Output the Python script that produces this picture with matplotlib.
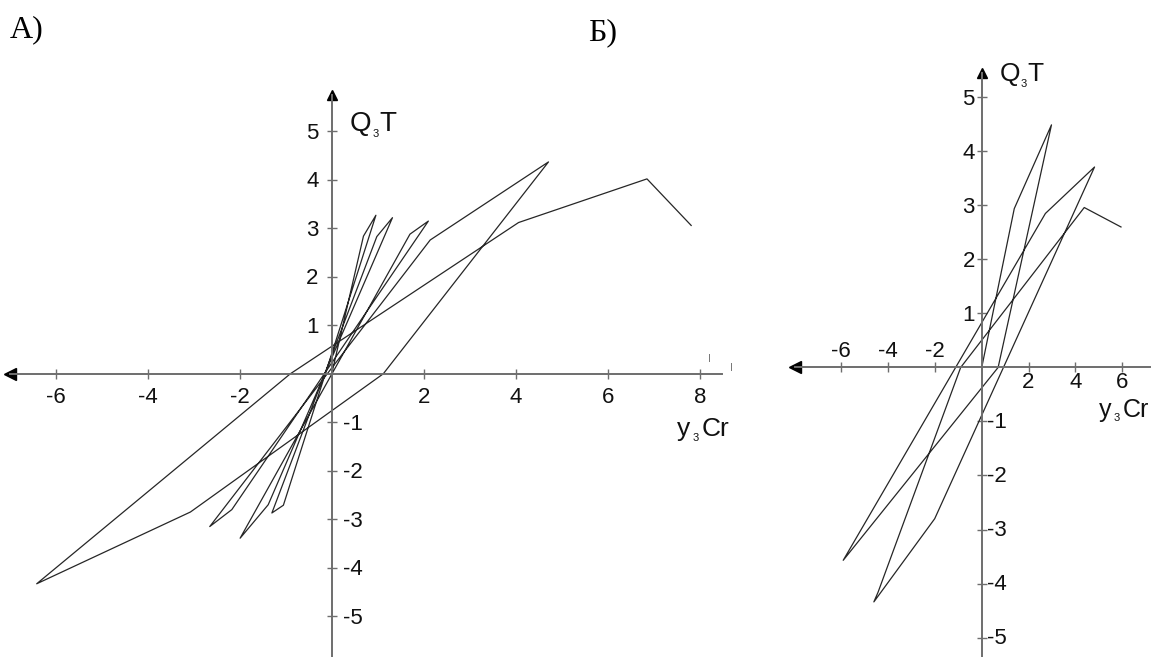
"""Петли гистерезиса Q3T(y3Cr) - две панели"""
import matplotlib.pyplot as plt

# панель А: вершины ломаной
a_x = [0.0, 0.69, 0.96, -1.05, -1.30, 0.98, 1.32, -1.38, -1.99, 1.70, 2.10,
       -2.17, -2.65, 2.14, 4.71, 1.12, -3.07, -6.41, -0.90, 4.06, 6.85, 7.81]
a_y = [0.0, 2.84, 3.27, -2.71, -2.87, 2.83, 3.22, -2.70, -3.39, 2.88, 3.15,
       -2.80, -3.15, 2.76, 4.37, 0.0, -2.85, -4.33, 0.0, 3.12, 4.02, 3.06]
a_xticks = [-6, -4, -2, 2, 4, 6, 8]
a_yticks = [-5, -4, -3, -2, -1, 1, 2, 3, 4, 5]

# панель Б
b_x = [0.0, 1.39, 2.98, 0.70, -5.92, 2.72, 4.82, -2.01, -4.61, -4.43, -0.90,
       4.38, 5.95]
b_y = [0.0, 2.94, 4.49, 0.0, -3.57, 2.85, 3.71, -2.80, -4.34, -4.16, 0.0,
       2.96, 2.60]
b_xticks = [-6, -4, -2, 2, 4, 6]
b_yticks = [-5, -4, -3, -2, -1, 1, 2, 3, 4, 5]

AXIS_COLOR = '#6e6e6e'
LINE_COLOR = '#262626'
TEXT_COLOR = '#111111'
SANS = 'Liberation Sans'
SERIF = 'Liberation Serif'


def make_cross_axes(ax, xlim, ylim):
    """Оси, пересекающиеся в нуле, со стрелками влево и вверх."""
    ax.set_xlim(xlim)
    ax.set_ylim(ylim)
    for side in ('top', 'right'):
        ax.spines[side].set_visible(False)
    for side in ('left', 'bottom'):
        ax.spines[side].set_position('zero')
        ax.spines[side].set_color(AXIS_COLOR)
        ax.spines[side].set_linewidth(1.4)
    ax.tick_params(direction='inout', length=7, width=1, color=AXIS_COLOR,
                   labelbottom=False, labelleft=False)
    ax.plot(0, 0, '<', color='black', ms=9, transform=ax.get_yaxis_transform(),
            clip_on=False)
    ax.plot(0, 1, '^', color='black', ms=7, transform=ax.get_xaxis_transform(),
            clip_on=False)
    ax.patch.set_alpha(0)


def tick_label(ax, x, y, text, dx, dy, ha):
    ax.annotate(text, xy=(x, y), xytext=(dx, dy), textcoords='offset points',
                ha=ha, va='baseline', fontsize=16, family=SANS, color=TEXT_COLOR)


def axis_name(ax, x, y, parts):
    # parts: (текст, сдвиг по x в пунктах, сдвиг по y, размер)
    for text, dx, dy, size in parts:
        ax.annotate(text, xy=(x, y), xytext=(dx, dy), textcoords='offset points',
                    ha='left', va='baseline', fontsize=size, family=SANS,
                    color=TEXT_COLOR)


fig = plt.figure(figsize=(11.51, 6.57), dpi=100)

# ---- А ----
ax = fig.add_axes([10 / 1151, 0, 712 / 1151, 562 / 657])
make_cross_axes(ax, (-6.99, 8.48), (-5.84, 5.75))
ax.set_xticks(a_xticks)
ax.set_yticks(a_yticks)
ax.plot(a_x, a_y, color=LINE_COLOR, lw=0.9)
for v in a_xticks:
    tick_label(ax, v, 0, str(v), 0, -21, 'center')
for v in a_yticks:
    if v > 0:
        tick_label(ax, 0, v, str(v), -9.5, -5.5, 'right')
    else:
        tick_label(ax, 0, v, str(v), 8, -5.5, 'left')
axis_name(ax, 0.4, 5.0, [('Q', 0, 0, 20), ('3', 16, -4, 8), ('T', 21, 0, 20)])
axis_name(ax, 7.5, -1.29, [('y', 0, 0, 19), ('3', 11.5, -3, 8), ('Cr', 18, 0, 19)])
ax.text(8.2, 0.3, 'I', fontsize=7, color=AXIS_COLOR, ha='center', va='center')
ax.text(8.68, 0.12, 'I', fontsize=7, color=AXIS_COLOR, ha='center', va='center')

# ---- Б ----
bx = fig.add_axes([795 / 1151, 0, 355 / 1151, 584 / 657])
make_cross_axes(bx, (-7.98, 7.19), (-5.36, 5.45))
bx.set_xticks(b_xticks)
bx.set_yticks(b_yticks)
bx.plot(b_x, b_y, color=LINE_COLOR, lw=0.9)
for v in b_xticks:
    if v < 0:
        tick_label(bx, v, 0, str(v), 0, 7.6, 'center')
    else:
        tick_label(bx, v, 0, str(v), 0, -15, 'center')
for v in b_yticks:
    if v > 0:
        tick_label(bx, 0, v, str(v), -5, -5.8, 'right')
    else:
        tick_label(bx, 0, v, str(v), 3.6, -4.8, 'left')
axis_name(bx, 0.75, 5.3, [('Q', 0, 0, 19), ('3', 15.5, -4, 8), ('T', 20, 0, 19)])
axis_name(bx, 5.0, -0.91, [('y', 0, 0, 18), ('3', 11, -3, 8), ('Cr', 17, 0, 18)])

fig.text(10 / 1151, 1 - 37 / 657, 'А)', fontsize=23, family=SERIF, va='baseline')
fig.text(588 / 1151, 1 - 40 / 657, 'Б)', fontsize=23, family=SERIF, va='baseline')

fig.savefig('out.png', dpi=100)
